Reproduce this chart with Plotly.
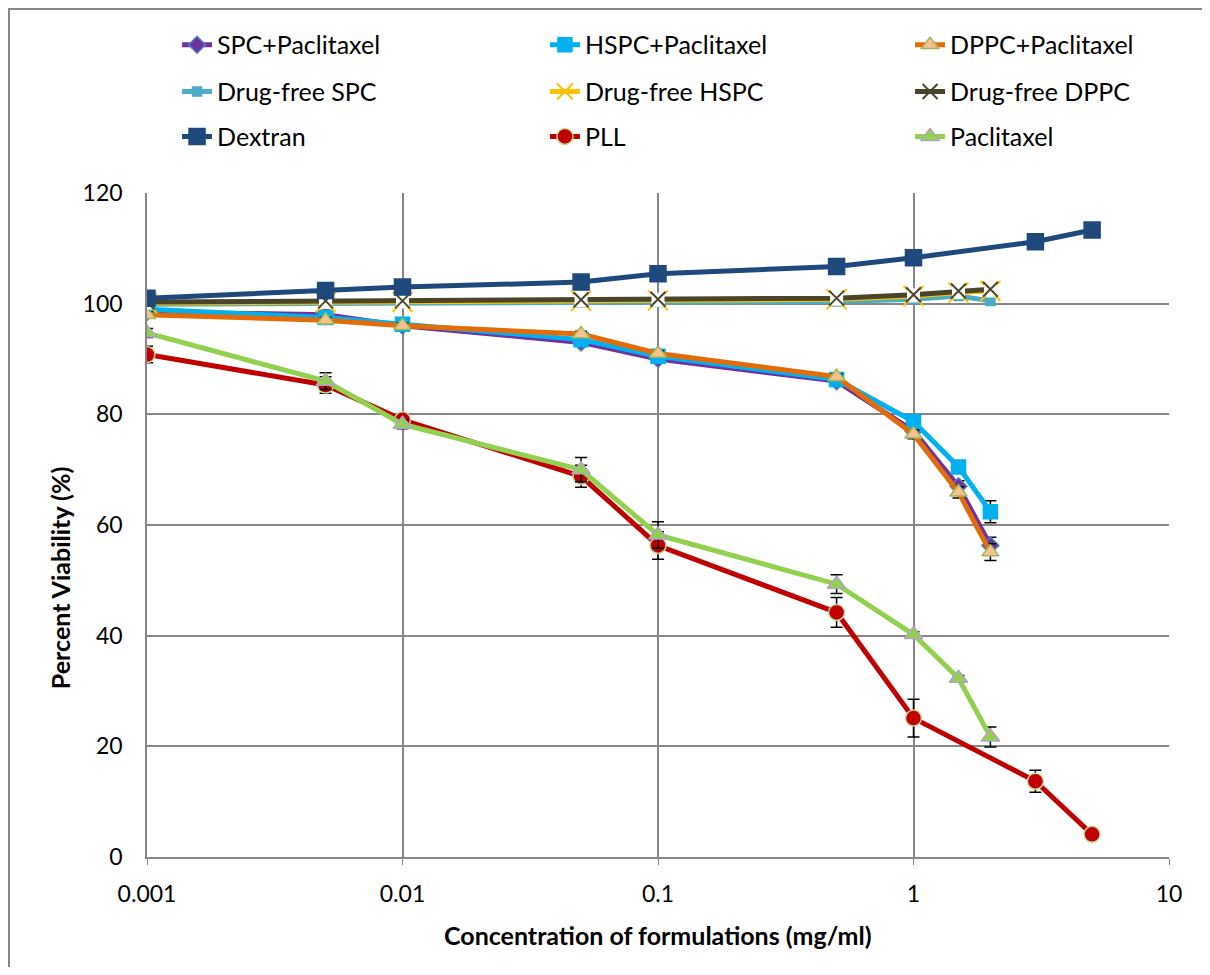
import plotly.graph_objects as go

# ---- data ----
conc_lipo = [0.001, 0.005, 0.01, 0.05, 0.1, 0.5, 1, 1.5, 2]
conc_dex = [0.001, 0.005, 0.01, 0.05, 0.1, 0.5, 1, 3, 5]
conc_pll = [0.001, 0.005, 0.01, 0.05, 0.1, 0.5, 1, 3, 5]
conc_ptx = [0.001, 0.005, 0.01, 0.05, 0.1, 0.5, 1, 1.5, 2]

spc_ptx = [98.5, 98.0, 96.0, 93.0, 90.0, 86.0, 77.0, 67.0, 56.3]
spc_ptx_err = [0.5, 0.5, 0.5, 0.5, 0.5, 0.5, 0.8, 1.0, 1.5]
hspc_ptx = [99.0, 97.5, 96.3, 93.5, 90.5, 86.3, 78.7, 70.5, 62.4]
hspc_ptx_err = [0.5, 0.5, 0.5, 0.5, 0.5, 0.5, 0.8, 1.0, 2.0]
dppc_ptx = [98.0, 97.0, 96.0, 94.5, 91.0, 86.8, 76.4, 65.9, 55.1]
dppc_ptx_err = [0.5, 0.5, 0.5, 0.5, 0.5, 0.5, 0.8, 1.0, 1.5]

free_spc = [99.9, 100.0, 100.1, 100.2, 100.3, 100.4, 100.8, 101.4, 100.5]
free_hspc = [100.1, 100.2, 100.3, 100.5, 100.6, 100.8, 101.4, 102.0, 102.3]
free_dppc = [100.3, 100.5, 100.5, 100.7, 100.8, 101.0, 101.6, 102.3, 102.6]

dextran = [101.0, 102.4, 103.0, 103.9, 105.4, 106.7, 108.3, 111.2, 113.3]
pll = [90.8, 85.3, 79.0, 68.8, 56.3, 44.2, 25.1, 13.7, 4.1]
pll_err = [1.5, 1.5, 0.8, 2.0, 2.5, 2.7, 3.4, 2.0, 0.3]
paclitaxel = [94.7, 86.0, 78.2, 70.0, 58.2, 49.3, 40.2, 32.3, 21.7]
paclitaxel_err = [0.8, 1.5, 0.8, 2.2, 2.4, 1.7, 0.5, 0.5, 1.8]

x_ticks = [0.001, 0.01, 0.1, 1, 10]
x_tick_labels = ["0.001", "0.01", "0.1", "1", "10"]
y_ticks = [0, 20, 40, 60, 80, 100, 120]

FONT = "Lato"
LEG_FONT = 25
TICK_FONT = 23
TITLE_FONT = 25

series = [
    # name, x, y, err, line color, marker symbol, marker fill, marker line, size, white patch
    ("SPC+Paclitaxel", conc_lipo, spc_ptx, spc_ptx_err, "#7030A0", "diamond", "#7030A0", "#4F81BD", 13, False),
    ("HSPC+Paclitaxel", conc_lipo, hspc_ptx, hspc_ptx_err, "#00B0F0", "square", "#00B0F0", "#00B0F0", 14, False),
    ("DPPC+Paclitaxel", conc_lipo, dppc_ptx, dppc_ptx_err, "#E36C09", "triangle-up", "#FAC090", "#9BBB59", 15, False),
    ("Drug-free SPC", conc_lipo, free_spc, None, "#4BACC6", "square", "#4BACC6", "#4BACC6", 9, False),
    ("Drug-free HSPC", conc_lipo, free_hspc, None, "#FFC000", "x-thin", "#FFC000", "#FFC000", 20, True),
    ("Drug-free DPPC", conc_lipo, free_dppc, None, "#4A452A", "x-thin", "#4A452A", "#4A452A", 15, True),
    ("Dextran", conc_dex, dextran, None, "#1F497D", "square", "#1F497D", "#1F497D", 16, False),
    ("PLL", conc_pll, pll, pll_err, "#C00000", "circle", "#C00000", "#C3D69B", 16, False),
    ("Paclitaxel", conc_ptx, paclitaxel, paclitaxel_err, "#92D050", "triangle-up", "#92D050", "#B3A2C7", 16, False),
]

fig = go.Figure()

legend_cols = [0.0294, 0.3894, 0.7466]
legend_rows = [1.2229, 1.1526, 1.0848]

for i, (name, xs, ys, err, lc, sym, mfill, mline, msz, patch) in enumerate(series):
    lg = "legend" if i == 0 else f"legend{i+1}"
    lw = 2 if "x" in sym else 1.5
    marker = dict(symbol=sym, size=msz, color=mfill, line=dict(color=mline, width=lw))
    line = dict(color=lc, width=5)
    if not patch:
        tr = dict(x=xs, y=ys, name=name, mode="lines+markers",
                  line=line, marker=marker, legend=lg)
        if err is not None:
            tr["error_y"] = dict(type="data", array=err, visible=True,
                                 color="black", thickness=1.5, width=6)
        fig.add_trace(go.Scatter(**tr))
    else:
        # line, then white patch behind the X marker, then the X marker
        fig.add_trace(go.Scatter(x=xs, y=ys, mode="lines", line=line,
                                 showlegend=False, hoverinfo="skip", legend=lg))
        fig.add_trace(go.Scatter(x=xs, y=ys, mode="markers",
                                 marker=dict(symbol="square", size=13, color="white",
                                             line=dict(width=0)),
                                 showlegend=False, hoverinfo="skip", legend=lg))
        fig.add_trace(go.Scatter(x=xs, y=ys, mode="markers", marker=marker,
                                 name=name, showlegend=False, legend=lg))
        fig.add_trace(go.Scatter(x=[None], y=[None], mode="lines+markers",
                                 line=line, marker=marker, name=name, legend=lg))

layout_legends = {}
for i in range(9):
    key = "legend" if i == 0 else f"legend{i+1}"
    layout_legends[key] = dict(
        x=legend_cols[i % 3], y=legend_rows[i // 3],
        xanchor="left", yanchor="middle",
        bgcolor="rgba(0,0,0,0)",
        font=dict(family=FONT, size=LEG_FONT, color="black"),
    )

fig.update_layout(
    width=1194, height=959,
    margin=dict(l=139, r=33, t=185, b=110),
    paper_bgcolor="white", plot_bgcolor="white",
    font=dict(family=FONT, color="black"),
    showlegend=True,
    **layout_legends,
)

fig.update_xaxes(
    type="log", range=[-3, 1],
    tickvals=x_ticks, ticktext=x_tick_labels,
    showgrid=True, gridcolor="#878787", gridwidth=1.5,
    showline=True, linecolor="#878787", linewidth=1.5,
    ticks="outside", ticklen=6, tickcolor="#878787", ticklabelstandoff=10,
    tickfont=dict(family=FONT, size=TICK_FONT, color="black"),
    zeroline=False, mirror=False,
)
fig.update_yaxes(
    range=[0, 120], tickvals=y_ticks,
    showgrid=True, gridcolor="#878787", gridwidth=1.5,
    showline=True, linecolor="#878787", linewidth=1.5,
    ticks="", ticklabelstandoff=18,
    tickfont=dict(family=FONT, size=TICK_FONT, color="black"),
    zeroline=False,
)

# axis titles
fig.add_annotation(text="<b>Concentration of formulations (mg/ml)</b>",
                   xref="paper", yref="paper", x=0.5, y=-0.1175,
                   xanchor="center", yanchor="middle", showarrow=False,
                   font=dict(family=FONT, size=TITLE_FONT, color="black"))
fig.add_annotation(text="<b>Percent Viability (%)</b>", textangle=-90,
                   xref="paper", yref="paper", x=-0.0851, y=0.42,
                   xanchor="center", yanchor="middle", showarrow=False,
                   font=dict(family=FONT, size=TITLE_FONT, color="black"))

# outer chart frame (top and left edges)
fig.add_shape(type="line", xref="paper", yref="paper",
              x0=-139/1022, x1=1.2, y0=1 + 184/664, y1=1 + 184/664,
              line=dict(color="#888888", width=2))
fig.add_shape(type="line", xref="paper", yref="paper",
              x0=-138/1022, x1=-138/1022, y0=-0.3, y1=1 + 184/664,
              line=dict(color="#888888", width=2))

fig.write_html("out.html")
